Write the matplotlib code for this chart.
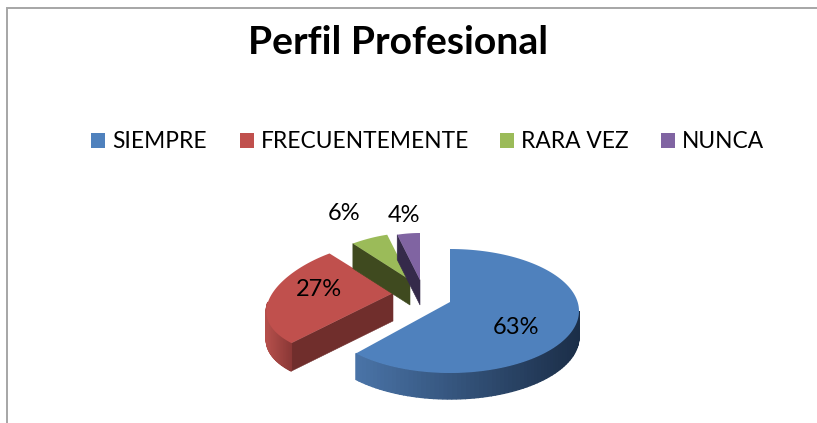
"""Perfil Profesional: exploded 3D-look pie drawn with plain polygons."""

import numpy as np
import matplotlib.pyplot as plt
from matplotlib.colors import to_rgb
from matplotlib.patches import Polygon, Rectangle

plt.rcParams["font.family"] = ["Lato", "DejaVu Sans"]

categories = ["SIEMPRE", "FRECUENTEMENTE", "RARA VEZ", "NUNCA"]
values = [63, 27, 6, 4]

colors = ["#4F81BD", "#C0504D", "#9BBB59", "#8064A2"]
face_dark = ["#1F3350", "#702E2C", "#3F4A1F", "#352A4A"]   # radial face
side_left = ["#4A74A8", "#B54F4B", "#9BBB59", "#8064A2"]   # outer band, left end
side_right = ["#1B2E48", "#8A3836", "#3F4A1F", "#352A4A"]  # outer band, right end

# per-slice layout in image pixels: ellipse centre, radii, perspective, depth, apex
CX = [450, 393, 410, 420]
CY = [311, 302, 288, 288]
RX = [129, 125, 125, 125]
RY = [62, 60, 55, 55]
K = [0.0, 0.0028, 0.005, 0.005]
DEPTH = [26, 28, 25, 25]
APEX_Y = [302, 293, 280, 280]
LABEL_XY = [(516, 328), (319, 290), (344, 213), (404, 215)]
LEGEND_X = [91, 240, 500, 661]

fig = plt.figure(figsize=(8.17, 4.23), dpi=100)
ax = fig.add_axes([0, 0, 1, 1])
ax.set_xlim(0, 817)
ax.set_ylim(423, 0)
ax.axis("off")

# chart frame, only the left and top edges are in the crop
ax.plot([7.5, 7.5, 817], [423, 8.5, 8.5], color="#A6A6A6", lw=1.4, solid_joinstyle="miter")

ax.text(398, 43, "Perfil Profesional", ha="center", va="center",
        fontsize=28.2, fontweight="bold", color="black")

for x, name, col in zip(LEGEND_X, categories, colors):
    ax.add_patch(Rectangle((x, 133), 14.5, 15, facecolor=col, edgecolor="none"))
    ax.text(x + 21, 141, name, ha="left", va="center", fontsize=16.4, color="black")


def rim(i, deg):
    """Rim position of slice i at deg, clockwise from 12 o'clock."""
    rad = np.radians(deg)
    dy = -np.cos(rad) * RY[i]
    dx = np.sin(rad) * RX[i] * (1 + K[i] * dy)
    return CX[i] + dx, CY[i] + dy


edges = np.concatenate([[0], np.cumsum(values)]) * 360 / sum(values)

for i in range(len(values)):
    start, end = edges[i], edges[i + 1]
    apex = (CX[i], APEX_Y[i])
    d = DEPTH[i]

    # radial face that looks towards the viewer
    rx_, ry_ = rim(i, start)
    ax.add_patch(Polygon([apex, (rx_, ry_), (rx_, ry_ + d), (apex[0], apex[1] + d)],
                         facecolor=face_dark[i], edgecolor=face_dark[i], lw=0.4, zorder=2 + i))

    # outer band, only the front half of the rim shows
    lo, hi = max(start, 90), min(end, 270)
    if hi > lo:
        steps = np.linspace(lo, hi, 70)
        pts = np.array([rim(i, a) for a in steps])
        span = pts[:, 0].max() - pts[:, 0].min()
        left, right = np.array(to_rgb(side_left[i])), np.array(to_rgb(side_right[i]))
        for j in range(len(steps) - 1):
            t = (pts[j, 0] - pts[:, 0].min()) / span
            col = left + (right - left) * t
            (x0, y0), (x1, y1) = pts[j], pts[j + 1]
            ax.add_patch(Polygon([(x0, y0), (x1, y1), (x1, y1 + d), (x0, y0 + d)],
                                 facecolor=col, edgecolor=col, lw=1.0, zorder=2 + i))

    # top face
    arc = [rim(i, a) for a in np.linspace(start, end, 120)]
    ax.add_patch(Polygon([apex] + arc, closed=True, facecolor=colors[i],
                         edgecolor="none", zorder=3 + i))

    ax.text(LABEL_XY[i][0], LABEL_XY[i][1], f"{values[i]}%", ha="center", va="center",
            fontsize=17, color="black", zorder=10)

fig.savefig("out.png", dpi=100, facecolor="white")
